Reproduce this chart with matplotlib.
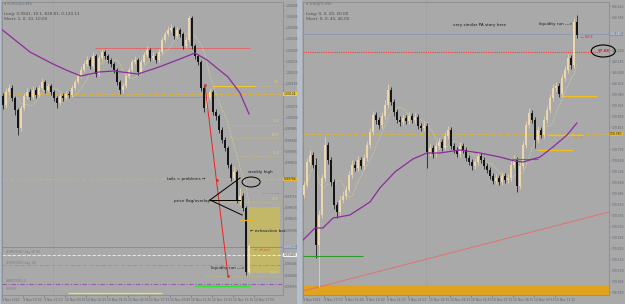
import matplotlib
matplotlib.use("Agg")
import matplotlib.pyplot as plt
from matplotlib.patches import Rectangle, Ellipse
import numpy as np
import pandas as pd

W, H = 625, 304

# -----------------------------------------------------------------------
# EURUSD M5 (left panel)
# -----------------------------------------------------------------------
eu_first_open = 1.00116
eu_close = [1.00080, 1.00132, 1.00148, 1.00108, 1.00060, 0.99988, 1.00068, 1.00116, 1.00132, 1.00112,
            1.00140, 1.00120, 1.00148, 1.00172, 1.00140, 1.00156, 1.00132, 1.00108, 1.00088, 1.00116,
            1.00108, 1.00124, 1.00120, 1.00148, 1.00172, 1.00196, 1.00220, 1.00244, 1.00260, 1.00236,
            1.00276, 1.00204, 1.00268, 1.00292, 1.00276, 1.00260, 1.00244, 1.00220, 1.00172, 1.00140,
            1.00156, 1.00196, 1.00220, 1.00252, 1.00260, 1.00212, 1.00252, 1.00280, 1.00300, 1.00268,
            1.00276, 1.00260, 1.00292, 1.00340, 1.00364, 1.00380, 1.00388, 1.00356, 1.00380, 1.00364,
            1.00316, 1.00340, 1.00428, 1.00316, 1.00276, 1.00252, 1.00148, 1.00068, 1.00108, 1.00132,
            1.00052, 1.00036, 0.99980, 0.99940, 0.99908, 0.99840, 0.99788, 0.99812, 0.99700, 0.99716,
            0.99668, 0.99412, 0.99516]
eu_high = [1.00130, 1.00150, 1.00164, 1.00160, 1.00116, 1.00070, 1.00080, 1.00130, 1.00150, 1.00144,
           1.00156, 1.00152, 1.00160, 1.00190, 1.00180, 1.00168, 1.00164, 1.00140, 1.00116, 1.00128,
           1.00128, 1.00136, 1.00136, 1.00160, 1.00184, 1.00208, 1.00236, 1.00256, 1.00276, 1.00272,
           1.00292, 1.00284, 1.00280, 1.00304, 1.00300, 1.00284, 1.00268, 1.00252, 1.00228, 1.00180,
           1.00168, 1.00208, 1.00232, 1.00264, 1.00276, 1.00268, 1.00264, 1.00292, 1.00316, 1.00308,
           1.00292, 1.00288, 1.00304, 1.00352, 1.00376, 1.00396, 1.00404, 1.00396, 1.00392, 1.00388,
           1.00372, 1.00352, 1.00440, 1.00436, 1.00324, 1.00284, 1.00260, 1.00156, 1.00120, 1.00148,
           1.00140, 1.00064, 1.00044, 0.99992, 0.99952, 0.99916, 0.99848, 0.99836, 0.99820, 0.99748,
           0.99728, 0.99676, 0.99524]
eu_low = [1.00064, 1.00070, 1.00122, 1.00096, 1.00040, 0.99960, 0.99976, 1.00060, 1.00104, 1.00100,
          1.00104, 1.00108, 1.00112, 1.00140, 1.00128, 1.00132, 1.00120, 1.00096, 1.00068, 1.00080,
          1.00096, 1.00100, 1.00108, 1.00112, 1.00140, 1.00164, 1.00188, 1.00212, 1.00236, 1.00224,
          1.00228, 1.00192, 1.00196, 1.00260, 1.00264, 1.00248, 1.00232, 1.00208, 1.00160, 1.00124,
          1.00128, 1.00148, 1.00188, 1.00212, 1.00244, 1.00200, 1.00204, 1.00244, 1.00272, 1.00256,
          1.00260, 1.00248, 1.00252, 1.00284, 1.00332, 1.00356, 1.00372, 1.00344, 1.00348, 1.00352,
          1.00304, 1.00308, 1.00332, 1.00304, 1.00264, 1.00240, 1.00136, 1.00052, 1.00060, 1.00100,
          1.00040, 1.00020, 0.99968, 0.99928, 0.99896, 0.99828, 0.99776, 0.99780, 0.99688, 0.99680,
          0.99656, 0.99400, 0.99404]
eu_ma_idx = [-1, 4, 9, 16, 21, 26, 32, 37, 45, 52, 59, 64, 68, 75, 79, 82]
eu_ma = [1.00388, 1.00340, 1.00292, 1.00248, 1.00220, 1.00196, 1.00212, 1.00216, 1.00204, 1.00232,
         1.00264, 1.00288, 1.00260, 1.00192, 1.00128, 1.00044]
eu_time_labels = ["9 Nov 2022", "9 Nov 19:00", "9 Nov 21:00", "10 Nov 00:35", "10 Nov 02:25",
                  "10 Nov 04:15", "10 Nov 06:05", "10 Nov 07:55", "10 Nov 09:45", "10 Nov 11:35",
                  "10 Nov 13:25", "10 Nov 15:15", "10 Nov 17:05"]
eu_fib_levels = [1.00000, 0.99948, 0.99876, 0.99692, 0.99396]
eu_fib_labels = ["38.2", "50.0", "61.8", "78.6", "100.0"]
eu_fib_start = [75.7, 75.7, 76.7, 69.0, 67.3]

# -----------------------------------------------------------------------
# USDJPY M5 (right panel)
# -----------------------------------------------------------------------
uj_first_open = 139.475
uj_close = [139.525, 139.640, 139.675, 139.625, 139.225, 139.375, 139.560, 139.725, 139.650, 139.540,
            139.425, 139.390, 139.450, 139.470, 139.500, 139.575, 139.625, 139.610, 139.650, 139.620,
            139.660, 139.725, 139.790, 139.875, 139.850, 139.825, 139.870, 139.925, 140.000, 139.940,
            139.890, 139.850, 139.840, 139.860, 139.845, 139.870, 139.850, 139.865, 139.820, 139.810,
            139.820, 139.690, 139.710, 139.680, 139.720, 139.740, 139.710, 139.770, 139.800, 139.720,
            139.700, 139.680, 139.720, 139.700, 139.660, 139.640, 139.620, 139.640, 139.670, 139.650,
            139.620, 139.600, 139.570, 139.545, 139.560, 139.540, 139.570, 139.550, 139.560, 139.625,
            139.650, 139.520, 139.620, 139.725, 139.825, 139.885, 139.850, 139.750, 139.800, 139.775,
            139.850, 139.900, 139.960, 140.010, 140.020, 139.980, 140.060, 140.100, 140.160, 140.125,
            140.340, 140.275]
uj_high = [139.545, 139.660, 139.700, 139.690, 139.660, 139.400, 139.580, 139.765, 139.740, 139.665,
           139.555, 139.440, 139.470, 139.495, 139.520, 139.595, 139.650, 139.645, 139.670, 139.665,
           139.680, 139.745, 139.810, 139.895, 139.890, 139.865, 139.890, 139.950, 140.030, 140.015,
           139.955, 139.905, 139.870, 139.880, 139.875, 139.890, 139.885, 139.885, 139.880, 139.835,
           139.840, 139.835, 139.730, 139.725, 139.740, 139.760, 139.755, 139.790, 139.820, 139.815,
           139.735, 139.715, 139.740, 139.735, 139.715, 139.675, 139.655, 139.660, 139.690, 139.685,
           139.665, 139.635, 139.615, 139.585, 139.580, 139.575, 139.590, 139.585, 139.580, 139.645,
           139.675, 139.665, 139.640, 139.745, 139.845, 139.910, 139.900, 139.865, 139.820, 139.815,
           139.870, 139.920, 139.980, 140.030, 140.040, 140.035, 140.080, 140.120, 140.180, 140.175,
           140.360, 140.375]
uj_low = [139.460, 139.515, 139.625, 139.610, 139.160, 139.015, 139.360, 139.545, 139.630, 139.520,
          139.405, 139.360, 139.375, 139.435, 139.455, 139.490, 139.560, 139.595, 139.595, 139.605,
          139.605, 139.645, 139.710, 139.775, 139.830, 139.805, 139.810, 139.855, 139.910, 139.925,
          139.870, 139.835, 139.820, 139.825, 139.830, 139.830, 139.835, 139.835, 139.805, 139.795,
          139.795, 139.610, 139.670, 139.660, 139.665, 139.705, 139.695, 139.700, 139.755, 139.705,
          139.685, 139.665, 139.665, 139.685, 139.645, 139.625, 139.600, 139.605, 139.625, 139.635,
          139.605, 139.585, 139.555, 139.530, 139.530, 139.525, 139.525, 139.535, 139.535, 139.545,
          139.610, 139.490, 139.505, 139.605, 139.710, 139.810, 139.835, 139.710, 139.735, 139.760,
          139.760, 139.835, 139.885, 139.945, 139.995, 139.965, 139.965, 140.045, 140.085, 140.105,
          140.110, 140.260]
uj_ma_idx = [-0.3, 3.7, 6.3, 9.7, 15.3, 22, 25.3, 30.3, 36.3, 41, 45.3, 52, 58.7, 65.3, 70.3, 73,
             78.7, 83, 87.7, 91]
uj_ma = [139.250, 139.310, 139.310, 139.360, 139.375, 139.440, 139.510, 139.590, 139.655, 139.685,
         139.685, 139.700, 139.685, 139.665, 139.645, 139.640, 139.665, 139.715, 139.775, 139.835]
uj_time_labels = ["9 Nov 2022", "9 Nov 13:00", "9 Nov 16:00", "9 Nov 19:00", "9 Nov 21:00",
                  "9 Nov 23:00", "10 Nov 02:35", "10 Nov 04:35", "10 Nov 05:55", "10 Nov 07:15",
                  "10 Nov 08:35", "10 Nov 09:55", "10 Nov 11:15"]

# -----------------------------------------------------------------------
# Style
# -----------------------------------------------------------------------
BG = "#a9a9a9"
BULL = "#ecd6aa"
BEAR = "#151515"
PURPLE = "#8e2c9c"
GOLD = "#d9b23a"
TICK_COL = "#5d6570"
FS = 3.0      # annotation text
FS_AX = 2.2   # axis labels

fig = plt.figure(figsize=(W / 100, H / 100), dpi=100)
fig.patch.set_facecolor("#b3bfcd")


def px_axes(x0, y0, x1, y1):
    return fig.add_axes([x0 / W, 1 - y1 / H, (x1 - x0) / W, (y1 - y0) / H])


def ftext(x, y, s, **kw):
    fig.text(x / W, 1 - y / H, s, va="center", fontsize=FS, **kw)


# panel backgrounds
for x0, x1 in [(1, 297), (302, 625)]:
    fig.add_artist(Rectangle((x0 / W, 0), (x1 - x0) / W, 1, transform=fig.transFigure,
                             facecolor=BG, edgecolor="none", zorder=0))


def draw_candles(ax, first_open, close, high, low):
    close = np.array(close)
    opens = np.r_[first_open, close[:-1]]
    x = np.arange(len(close))
    up = close >= opens
    cols = np.where(up, BULL, BEAR)
    ax.vlines(x, low, high, colors=cols, lw=0.55, zorder=4)
    span = ax.get_ylim()[1] - ax.get_ylim()[0]
    body = np.maximum(np.abs(close - opens), span * 0.003)
    ax.bar(x, body, bottom=np.minimum(opens, close), width=0.72, color=cols, lw=0, zorder=5)
    fast = pd.Series(close).rolling(6, min_periods=1).mean().shift(1).bfill()
    ax.plot(x, fast, ls=(0, (1, 1.2)), color="#e6dc96", lw=0.5, zorder=3)


def style_axes(ax, xlim, ylim, yticks, fmt, xtick_pos, xtick_labels, box_levels):
    ax.set_facecolor(BG)
    ax.set_xlim(*xlim)
    ax.set_ylim(*ylim)
    for sp in ax.spines.values():
        sp.set_color("#8d8d8d")
        sp.set_linewidth(0.6)
    # like the terminal, skip scale labels hidden behind the price boxes
    gap = (ylim[1] - ylim[0]) * 0.022
    yticks = [t for t in yticks if all(abs(t - b) > gap for b in box_levels)]
    ax.yaxis.tick_right()
    ax.set_yticks(yticks)
    ax.set_yticklabels([fmt.format(t) for t in yticks])
    ax.tick_params(axis="y", labelsize=FS_AX, length=1.0, width=0.4, pad=0.6, colors=TICK_COL)
    ax.set_xticks(xtick_pos)
    ax.set_xticklabels(xtick_labels)
    ax.tick_params(axis="x", labelsize=FS_AX, length=1.5, width=0.4, pad=1.0, colors=TICK_COL)
    for lab in ax.get_xticklabels():
        lab.set_ha("left")


def axis_box(ax, y, text, fc, tc="#222222"):
    ax.text(1.003, y, text, transform=ax.get_yaxis_transform(), fontsize=FS_AX, color=tc,
            va="center", ha="left", clip_on=False, zorder=10,
            bbox=dict(boxstyle="square,pad=0.12", fc=fc, ec="none"))


# -----------------------------------------------------------------------
# Left panel
# -----------------------------------------------------------------------
axL = px_axes(2, 2, 283, 295)
eu_boxes = [1.00124, 0.99784, 0.99512, 0.99480]
eu_ticks = np.arange(1.00480, 0.99320, -0.00045)
style_axes(axL, (-0.33, 93.33), (0.99320, 1.00492), eu_ticks, "{:.5f}",
           np.arange(len(eu_time_labels)) * 7 - 0.3, eu_time_labels, eu_boxes)

axL.axvline(16.7, color="#8f8f8f", ls=(0, (1, 1.5)), lw=0.5, zorder=1)
axL.plot(eu_ma_idx, eu_ma, color=PURPLE, lw=0.9, zorder=6)

axL.hlines(1.00308, 30.7, 82.3, color="#e06a6a", lw=0.7, zorder=2)
axL.hlines(1.00112, 22.3, 71.7, color="#7d9ad0", lw=0.7, zorder=2)
axL.axhline(1.00124, color=GOLD, ls=(0, (4, 2.5)), lw=0.8, zorder=2)
axL.hlines(1.00156, 69.7, 84.0, color="#f0c830", lw=0.8, zorder=2)
axL.hlines(1.00156, 84.0, 92.3, color="#d8c060", lw=0.5, ls=(0, (1, 1.5)), zorder=2)
axL.text(92.0, 1.00164, "0.0", fontsize=FS_AX, color="#e8d070", ha="right", va="bottom")
for lvl, lab, x0 in zip(eu_fib_levels, eu_fib_labels, eu_fib_start):
    axL.hlines(lvl, x0, 92.3, color="#d8c060", lw=0.5, ls=(0, (1, 1.5)), zorder=2)
    axL.text(92.0, lvl + 0.00006, lab, fontsize=FS_AX, color="#e8d070", ha="right", va="bottom")
axL.axhline(0.99784, color=GOLD, ls=(0, (4, 2.5)), lw=0.8, zorder=2)
axL.hlines(0.99728, 86.3, 92.3, color="#8a8a8a", lw=0.5, ls=(0, (2, 1.5)), zorder=2)
axL.add_patch(Rectangle((81.7, 0.99412), 10.3, 0.00260, facecolor="#c3b867", edgecolor="#d8cc80",
                        lw=0.4, ls=":", zorder=1))
axL.hlines(0.99620, 79.0, 83.3, color="#f0b020", lw=0.9, zorder=6)
axL.axhline(0.99512, color="#8c8c96", lw=0.7, zorder=2)
axL.axhline(0.99480, color="#f4f4f4", ls=(0, (4, 2)), lw=0.6, zorder=2)
axL.axhline(0.99440, color="#8a8a8a", ls=(0, (4, 2, 1, 2)), lw=0.5, zorder=2)
axL.axhline(0.99364, color="#9a5ab0", ls=(0, (4, 1.5, 1, 1.5)), lw=0.8, zorder=2)
axL.hlines(0.99356, 64.0, 82.3, color="#2ee02e", lw=0.9, zorder=2)
axL.hlines(0.99328, 21.7, 53.0, color="#f2e830", lw=0.9, zorder=2)

draw_candles(axL, eu_first_open, eu_close, eu_high, eu_low)

# red trendline with markers
axL.plot([67.3, 75.0], [1.00160, 0.99396], color="#f02020", lw=0.7, zorder=7)
axL.plot([67.3, 71.3, 75.0], [1.00160, 0.99780, 0.99396], "o", ms=1.4, color="#f03030",
         mec="#c01010", mew=0.3, zorder=8)

# annotations
axL.text(67.5, 0.99784, "tails = problems \u2192", fontsize=FS, ha="right", va="center",
         color="#1a1a1a", zorder=9)
axL.text(69.0, 0.99696, "price flag/overlap", fontsize=FS, ha="right", va="center",
         color="#1a1a1a", zorder=9)
for xe, ye in [(79.0, 0.99788), (79.0, 0.99700), (79.7, 0.99640)]:
    axL.plot([69.0, xe], [0.99700, ye], color="black", lw=0.7, zorder=9)
axL.text(81.5, 0.99812, "weekly high", fontsize=FS, ha="left", va="center", color="#1a1a1a", zorder=9)
axL.add_patch(Ellipse((82.7, 0.99772), 6.0, 0.00040, fill=False, ec="black", lw=0.7, zorder=9))
axL.text(82.3, 0.99576, "\u2190 exhaustion bar", fontsize=FS, ha="left", va="center",
         color="#1a1a1a", zorder=9)
axL.text(83.6, 0.99500, "\u2190 short", fontsize=FS, ha="left", va="center", color="#e0602a", zorder=9)
axL.text(80.7, 0.99428, "liquidity run \u2014>", fontsize=FS, ha="right", va="center",
         color="#1a1a1a", zorder=9)
for yv, lab in [(0.99492, "#SPECIFIED-bay 10.00"), (0.99448, "#SPECIFIED-bay 1/0"),
                (0.99376, "#SPECIFIED-0"), (0.99346, "0.0000")]:
    axL.text(1.0, yv, lab, fontsize=FS_AX, color="#7a7a8c", ha="left", va="center")

axis_box(axL, 1.00124, "1.00124", "#f0d030")
axis_box(axL, 0.99784, "0.99784", "#e8b830")
axis_box(axL, 0.99512, "0.99512", "#8894a8", tc="#f0f0f0")
axis_box(axL, 0.99480, "0.99480", "#f2f2f2")

ftext(4, 4, "\u25be EURUSD,M5", color="#66707c")
ftext(4, 14, "Long: 0.9941, 10.1, 828.81, 0-120.11", color="#4a4a4a")
ftext(4, 19, "Short: 1, 0, 10, 10:00", color="#4a4a4a")

# -----------------------------------------------------------------------
# Right panel
# -----------------------------------------------------------------------
axR = px_axes(303, 2, 609, 295)
uj_boxes = [140.280, 139.780]
uj_ticks = np.arange(140.420, 138.975, -0.055)
style_axes(axR, (-0.33, 101.7), (138.975, 140.440), uj_ticks, "{:.3f}",
           np.arange(len(uj_time_labels)) * 7 - 0.3, uj_time_labels, uj_boxes)

axR.axvline(40.7, color="#8f8f8f", ls=(0, (1, 1.5)), lw=0.5, zorder=1)
axR.add_patch(Rectangle((-0.33, 138.965), 102.5, 0.060, facecolor="#dfa31d", edgecolor="none",
                        zorder=2))
axR.plot([-0.3, 101.7], [138.995, 139.390], color="#e07272", lw=0.7, zorder=3)
axR.axhline(140.280, color="#8d9ab0", lw=0.7, zorder=2)
axR.hlines(140.190, -0.33, 98.7, color="#e04848", lw=0.8, ls=(0, (1, 1)), zorder=2)
axR.hlines(139.970, 86.0, 97.7, color="#f0c020", lw=0.9, zorder=2)
axR.axhline(139.780, color=GOLD, ls=(0, (4, 2.5)), lw=0.8, zorder=2)
axR.hlines(139.775, 81.0, 93.0, color="#f0c020", lw=0.9, zorder=2)
axR.text(93.0, 139.768, "139.78", fontsize=2.2, color="#c89a20", ha="right", va="top")
axR.hlines(139.700, 77.7, 89.7, color="#f0c020", lw=0.9, zorder=2)
axR.hlines(139.655, 69.3, 78.0, color="#2e9a2e", lw=0.8, zorder=6)
axR.hlines(139.170, -0.33, 19.7, color="#2e9a2e", lw=0.8, zorder=6)
axR.plot(uj_ma_idx, uj_ma, color=PURPLE, lw=0.9, zorder=6)

draw_candles(axR, uj_first_open, uj_close, uj_high, uj_low)

axR.text(49.7, 140.325, "very similar PA story here", fontsize=FS, ha="left", va="center",
         color="#1a1a1a")
axR.text(89.7, 140.330, "liquidity run \u2014>", fontsize=FS, ha="right", va="center", color="#1a1a1a")
axR.text(92.3, 140.265, "\u2190 88.8", fontsize=2.4, ha="left", va="center", color="#e03030")
axR.add_patch(Ellipse((99.8, 140.195), 8.0, 0.060, fill=False, ec="black", lw=0.8, zorder=9,
                      clip_on=False))
axR.text(99.8, 140.195, "97.88", fontsize=2.7, ha="center", va="center", color="#e02020",
         fontweight="bold", clip_on=False, zorder=9)

axis_box(axR, 140.280, "140.280", "#8894a8", tc="#f0f0f0")
axis_box(axR, 139.780, "139.780", "#e8b830")

ftext(306, 4, "\u25be USDJPY,M5", color="#66707c")
ftext(306, 14, "Long: 0, 0, 20, 20.00", color="#4a4a4a")
ftext(306, 19, "Short: 0, 0, 40, 40.00", color="#4a4a4a")

fig.savefig("out.png", dpi=100, facecolor=fig.get_facecolor())
